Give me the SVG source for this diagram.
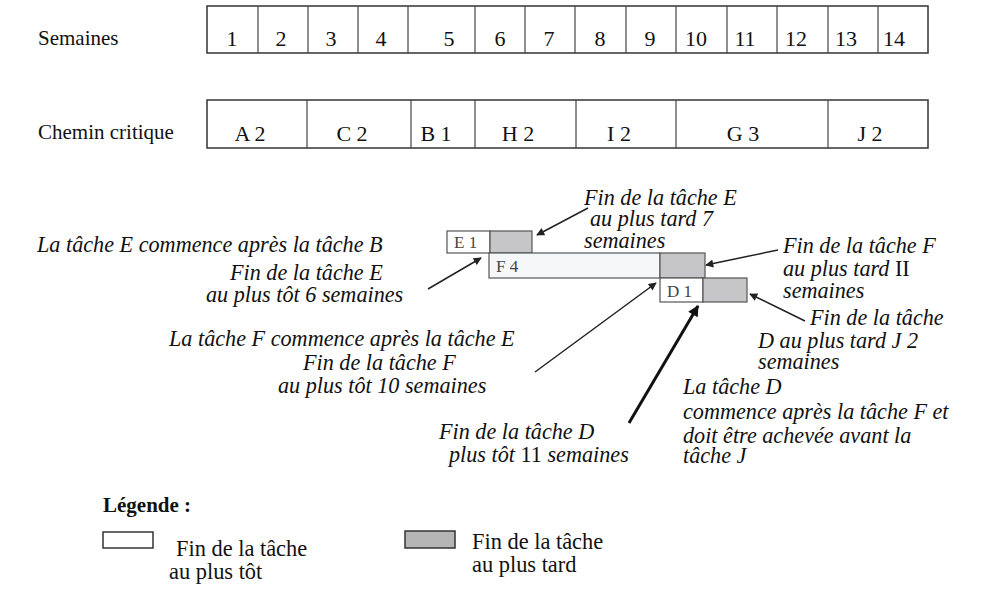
<svg xmlns="http://www.w3.org/2000/svg" width="983" height="590" viewBox="0 0 983 590">
<defs>
<style>
.lbl{font-family:"Liberation Serif","Times New Roman",serif;font-size:21px;fill:#111}
.leg{font-family:"Liberation Serif","Times New Roman",serif;font-size:22.4px;fill:#111}
.num{font-family:"Liberation Serif","Times New Roman",serif;font-size:22px;fill:#111;text-anchor:middle}
.it{font-family:"Liberation Serif","Times New Roman",serif;font-size:22.2px;font-style:italic;fill:#111}
.up{font-style:normal}
.cell{fill:#fff;stroke:#333;stroke-width:1.5}
.grid{stroke:#444;stroke-width:1.2}
.bar{fill:#fff;stroke:#555;stroke-width:1.2}
.barf{fill:#f6f7f9;stroke:#555;stroke-width:1.2}
.late{fill:#c6c6c8;stroke:#555;stroke-width:1.2}
.tk{font-family:"Liberation Serif","Times New Roman",serif;font-size:17px;fill:#444}
.conn{stroke:#222;stroke-width:1.5;fill:none}
.thick{stroke:#111;stroke-width:3;fill:none}
</style>
<marker id="ah" viewBox="0 0 10 10" refX="9" refY="5" markerWidth="10" markerHeight="8" markerUnits="userSpaceOnUse" orient="auto">
<path d="M0,0 L10,5 L0,10 z" fill="#222"/>
</marker>
<marker id="ahb" viewBox="0 0 10 10" refX="9" refY="5" markerWidth="14" markerHeight="11" markerUnits="userSpaceOnUse" orient="auto">
<path d="M0,0 L10,5 L0,10 z" fill="#111"/>
</marker>
</defs>
<rect width="983" height="590" fill="#fff"/>

<g id="semaines">
<text class="lbl" x="38" y="45">Semaines</text>
<rect class="cell" x="207" y="6" width="721" height="47"/>
<g class="grid">
<line x1="258" y1="6" x2="258" y2="53"/><line x1="308" y1="6" x2="308" y2="53"/><line x1="358" y1="6" x2="358" y2="53"/><line x1="408" y1="6" x2="408" y2="53"/><line x1="475" y1="6" x2="475" y2="53"/><line x1="525" y1="6" x2="525" y2="53"/><line x1="575" y1="6" x2="575" y2="53"/><line x1="626" y1="6" x2="626" y2="53"/><line x1="676" y1="6" x2="676" y2="53"/><line x1="727" y1="6" x2="727" y2="53"/><line x1="777" y1="6" x2="777" y2="53"/><line x1="828" y1="6" x2="828" y2="53"/><line x1="878" y1="6" x2="878" y2="53"/>
</g>
<text class="num" x="232" y="46">1</text><text class="num" x="281" y="46">2</text><text class="num" x="331" y="46">3</text><text class="num" x="381" y="46">4</text><text class="num" x="449" y="46">5</text><text class="num" x="500" y="46">6</text><text class="num" x="549" y="46">7</text><text class="num" x="600" y="46">8</text><text class="num" x="650" y="46">9</text><text class="num" x="696" y="46">10</text><text class="num" x="745" y="46">11</text><text class="num" x="796" y="46">12</text><text class="num" x="846" y="46">13</text><text class="num" x="894" y="46">14</text>
</g>

<g id="chemin-critique">
<text class="lbl" x="38" y="139">Chemin critique</text>
<rect class="cell" x="207" y="100" width="721" height="48"/>
<g class="grid">
<line x1="307" y1="100" x2="307" y2="148"/><line x1="411" y1="100" x2="411" y2="148"/><line x1="475" y1="100" x2="475" y2="148"/><line x1="576" y1="100" x2="576" y2="148"/><line x1="676" y1="100" x2="676" y2="148"/><line x1="828" y1="100" x2="828" y2="148"/>
</g>
<text class="num" x="250" y="141">A 2</text><text class="num" x="352" y="141">C 2</text><text class="num" x="436" y="141">B 1</text><text class="num" x="518" y="141">H 2</text><text class="num" x="619" y="141">I 2</text><text class="num" x="743" y="141">G 3</text><text class="num" x="870" y="141">J 2</text>
</g>

<g id="tache-E">
<rect class="bar" x="447" y="231" width="43" height="22"/>
<rect class="late" x="490" y="231" width="42" height="22"/>
<text class="tk" x="454" y="248">E 1</text>
</g>
<g id="tache-F">
<rect class="barf" x="489" y="253" width="171" height="25"/>
<rect class="late" x="660" y="253" width="45" height="25"/>
<text class="tk" x="496" y="272">F 4</text>
</g>
<g id="tache-D">
<rect class="bar" x="660" y="278" width="43" height="24"/>
<rect class="late" x="703" y="278" width="44" height="24"/>
<text class="tk" x="667" y="297">D 1</text>
</g>

<g id="connectors">
<line class="conn" x1="588" y1="208" x2="537" y2="235" marker-end="url(#ah)"/>
<line class="conn" x1="428" y1="289" x2="481" y2="258" marker-end="url(#ah)"/>
<line class="conn" x1="535" y1="372" x2="656" y2="283" marker-end="url(#ah)"/>
<line class="conn" x1="778" y1="250" x2="706" y2="265" marker-end="url(#ah)"/>
<line class="conn" x1="805" y1="321" x2="750" y2="294" marker-end="url(#ah)"/>
<line class="thick" x1="629" y1="423" x2="698" y2="306" marker-end="url(#ahb)"/>
</g>

<g id="note-E-tard">
<text class="it" x="584" y="205">Fin de la tâche E</text>
<text class="it" x="590" y="226">au plus tard 7</text>
<text class="it" x="584" y="248">semaines</text>
</g>
<g id="note-E-tot">
<text class="it" x="37" y="252">La tâche E commence après la tâche B</text>
<text class="it" x="230" y="280">Fin de la tâche E</text>
<text class="it" x="206" y="302">au plus tôt 6 semaines</text>
</g>
<g id="note-F-tot">
<text class="it" x="169" y="346">La tâche F commence après la tâche E</text>
<text class="it" x="303" y="370">Fin de la tâche F</text>
<text class="it" x="278" y="393">au plus tôt 10 semaines</text>
</g>
<g id="note-F-tard">
<text class="it" x="783" y="253">Fin de la tâche F</text>
<text class="it" x="783" y="276">au plus tard <tspan class="up">II</tspan></text>
<text class="it" x="783" y="298">semaines</text>
</g>
<g id="note-D-tard">
<text class="it" x="810" y="325">Fin de la tâche</text>
<text class="it" x="758" y="348">D au plus tard J 2</text>
<text class="it" x="758" y="369">semaines</text>
</g>
<g id="note-D-dep">
<text class="it" x="683" y="394">La tâche D</text>
<text class="it" x="683" y="419">commence après la tâche F et</text>
<text class="it" x="683" y="443">doit être achevée avant la</text>
<text class="it" x="683" y="463">tâche J</text>
</g>
<g id="note-D-tot">
<text class="it" x="439" y="439">Fin de la tâche D</text>
<text class="it" x="449" y="462">plus tôt <tspan class="up">11</tspan> semaines</text>
</g>

<g id="legende">
<text class="lbl" x="103" y="512" font-weight="bold">Légende :</text>
<rect x="103" y="532" width="50" height="16" fill="#fff" stroke="#333" stroke-width="1.5"/>
<text class="leg" x="176" y="556">Fin de la tâche</text>
<text class="leg" x="169" y="579">au plus tôt</text>
<rect x="405" y="531" width="50" height="17" fill="#b5b5b5" stroke="#333" stroke-width="1.5"/>
<text class="leg" x="472" y="549">Fin de la tâche</text>
<text class="leg" x="472" y="572">au plus tard</text>
</g>
</svg>
